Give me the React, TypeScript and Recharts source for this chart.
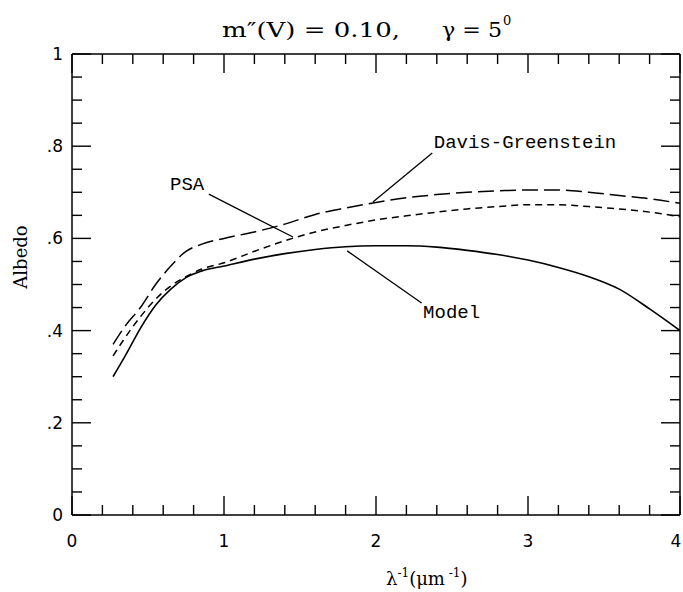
import React from "react";
import { LineChart, Line, XAxis, YAxis, ReferenceLine, ReferenceDot } from "recharts";

const xs = [0.27, 0.35, 0.45, 0.55, 0.65, 0.75, 0.85, 1.0, 1.2, 1.4, 1.6, 1.8, 2.0, 2.2, 2.4, 2.6, 2.8, 3.0, 3.2, 3.4, 3.6, 3.8, 4.0];
const model = [0.30, 0.345, 0.405, 0.455, 0.49, 0.515, 0.529, 0.54, 0.555, 0.567, 0.576, 0.582, 0.584, 0.584, 0.581, 0.574, 0.565, 0.553, 0.537, 0.517, 0.49, 0.447, 0.40];
const psa = [0.345, 0.385, 0.43, 0.468, 0.497, 0.517, 0.533, 0.547, 0.572, 0.595, 0.614, 0.628, 0.64, 0.649, 0.657, 0.664, 0.669, 0.673, 0.673, 0.669, 0.664, 0.657, 0.647];
const davisGreenstein = [0.37, 0.41, 0.45, 0.50, 0.54, 0.572, 0.587, 0.60, 0.614, 0.631, 0.652, 0.666, 0.678, 0.688, 0.695, 0.70, 0.703, 0.705, 0.705, 0.70, 0.693, 0.686, 0.676];

const xTicks = [0, 0.2, 0.4, 0.6, 0.8, 1, 1.2, 1.4, 1.6, 1.8, 2, 2.2, 2.4, 2.6, 2.8, 3, 3.2, 3.4, 3.6, 3.8, 4];
const yTicks = [0, 0.05, 0.1, 0.15, 0.2, 0.25, 0.3, 0.35, 0.4, 0.45, 0.5, 0.55, 0.6, 0.65, 0.7, 0.75, 0.8, 0.85, 0.9, 0.95, 1];
const xTickLabels: Record<string, string> = { "0": "0", "1": "1", "2": "2", "3": "3", "4": "4" };
const yTickLabels: Record<string, string> = { "0": "0", "0.2": ".2", "0.4": ".4", "0.6": ".6", "0.8": ".8", "1": "1" };

const data = xs.map((x, i) => ({ x, model: model[i], psa: psa[i], dg: davisGreenstein[i] }));

const MAJOR = 19;
const MINOR = 10;
const tickFont = "'DejaVu Sans', sans-serif";
const monoFont = "'Liberation Mono', monospace";
const serifFont = "'DejaVu Serif', serif";

const isXMajor = (v: number) => Math.abs(v - Math.round(v)) < 1e-6;
const isYMajor = (v: number) => Math.abs(v * 5 - Math.round(v * 5)) < 1e-6;
const key = (v: number) => String(Math.round(v * 100) / 100);

const BottomTick = (p: any) => {
  const v = p.payload.value;
  const major = isXMajor(v);
  const tx = Math.min(p.x, 676);
  return (
    <g>
      <line x1={p.x} y1={p.y} x2={p.x} y2={p.y - (major ? MAJOR : MINOR)} stroke="#000" strokeWidth={1.4} />
      {major && (
        <text x={tx} y={p.y + 32} textAnchor="middle" fontFamily={tickFont} fontSize={17} fill="#000">
          {xTickLabels[key(v)]}
        </text>
      )}
    </g>
  );
};
const TopTick = (p: any) => {
  const v = p.payload.value;
  const major = isXMajor(v);
  return <line x1={p.x} y1={p.y} x2={p.x} y2={p.y + (major ? MAJOR : MINOR)} stroke="#000" strokeWidth={1.4} />;
};
const LeftTick = (p: any) => {
  const v = p.payload.value;
  const major = isYMajor(v);
  return (
    <g>
      <line x1={p.x} y1={p.y} x2={p.x + (major ? MAJOR : MINOR)} y2={p.y} stroke="#000" strokeWidth={1.4} />
      {major && (
        <text x={p.x - 9} y={p.y + 6} textAnchor="end" fontFamily={tickFont} fontSize={17} fill="#000">
          {yTickLabels[key(v)]}
        </text>
      )}
    </g>
  );
};
const RightTick = (p: any) => {
  const v = p.payload.value;
  const major = isYMajor(v);
  return <line x1={p.x} y1={p.y} x2={p.x - (major ? MAJOR : MINOR)} y2={p.y} stroke="#000" strokeWidth={1.4} />;
};

const labelShape = (text: string) => (p: any) => (
  <text x={p.cx} y={p.cy} fontFamily={monoFont} fontSize={19} fill="#000">
    {text}
  </text>
);

const axisLine = { stroke: "#000", strokeWidth: 1.5 };

export default function App() {
  return (
    <div style={{ position: "absolute", left: 0, top: 0, width: 683, height: 592, background: "#fff" }}>
      <LineChart width={683} height={592} data={data} margin={{ top: 53, right: 2, bottom: 76, left: 71 }}>
        <XAxis xAxisId={0} dataKey="x" type="number" domain={[0, 4]} ticks={xTicks} interval={0} height={1}
          tickSize={0} tickMargin={0} tickLine={false} axisLine={axisLine} tick={BottomTick} allowDataOverflow />
        <XAxis xAxisId="top" orientation="top" dataKey="x" type="number" domain={[0, 4]} ticks={xTicks} interval={0} height={1}
          tickSize={0} tickMargin={0} tickLine={false} axisLine={axisLine} tick={TopTick} allowDataOverflow />
        <YAxis yAxisId={0} type="number" domain={[0, 1]} ticks={yTicks} interval={0} width={1}
          tickSize={0} tickMargin={0} tickLine={false} axisLine={axisLine} tick={LeftTick} allowDataOverflow />
        <YAxis yAxisId="right" orientation="right" type="number" domain={[0, 1]} ticks={yTicks} interval={0} width={1}
          tickSize={0} tickMargin={0} tickLine={false} axisLine={axisLine} tick={RightTick} allowDataOverflow />

        <Line xAxisId={0} yAxisId={0} type="monotone" dataKey="model" stroke="#000" strokeWidth={1.6} dot={false} isAnimationActive={false} />
        <Line xAxisId={0} yAxisId={0} type="monotone" dataKey="psa" stroke="#000" strokeWidth={1.5} strokeDasharray="7 5" dot={false} isAnimationActive={false} />
        <Line xAxisId={0} yAxisId={0} type="monotone" dataKey="dg" stroke="#000" strokeWidth={1.5} strokeDasharray="16 6" dot={false} isAnimationActive={false} />

        <ReferenceLine xAxisId={0} yAxisId={0} segment={[{ x: 1.98, y: 0.679 }, { x: 2.37, y: 0.785 }]} stroke="#000" strokeWidth={1.3} />
        <ReferenceLine xAxisId={0} yAxisId={0} segment={[{ x: 0.9, y: 0.696 }, { x: 1.454, y: 0.603 }]} stroke="#000" strokeWidth={1.3} />
        <ReferenceLine xAxisId={0} yAxisId={0} segment={[{ x: 1.81, y: 0.573 }, { x: 2.3, y: 0.46 }]} stroke="#000" strokeWidth={1.3} />

        <ReferenceDot xAxisId={0} yAxisId={0} x={2.38} y={0.796} r={0} shape={labelShape("Davis-Greenstein")} />
        <ReferenceDot xAxisId={0} yAxisId={0} x={0.645} y={0.705} r={0} shape={labelShape("PSA")} />
        <ReferenceDot xAxisId={0} yAxisId={0} x={2.31} y={0.427} r={0} shape={labelShape("Model")} />
      </LineChart>
      <svg width={683} height={592} style={{ position: "absolute", left: 0, top: 0, pointerEvents: "none" }}>
        <text x={222} y={37} fontFamily={serifFont} fontSize={21} fill="#000" textLength={178} lengthAdjust="spacingAndGlyphs">
          m″(V) = 0.10,
        </text>
        <text x={442} y={37} fontFamily={serifFont} fontSize={21} fill="#000" textLength={60} lengthAdjust="spacingAndGlyphs">
          γ = 5
        </text>
        <text x={503} y={25} fontFamily={serifFont} fontSize={13} fill="#000">0</text>
        <text transform="translate(27,257) rotate(-90)" textAnchor="middle" fontFamily={serifFont} fontSize={18} fill="#000">
          Albedo
        </text>
        <text x={386} y={585} fontFamily={serifFont} fontSize={18} fill="#000">
          λ<tspan fontSize={12} dy={-8}>-1</tspan>
          <tspan dy={8}>(μm</tspan>
          <tspan fontSize={12} dy={-8}> -1</tspan>
          <tspan dy={8}>)</tspan>
        </text>
      </svg>
    </div>
  );
}
